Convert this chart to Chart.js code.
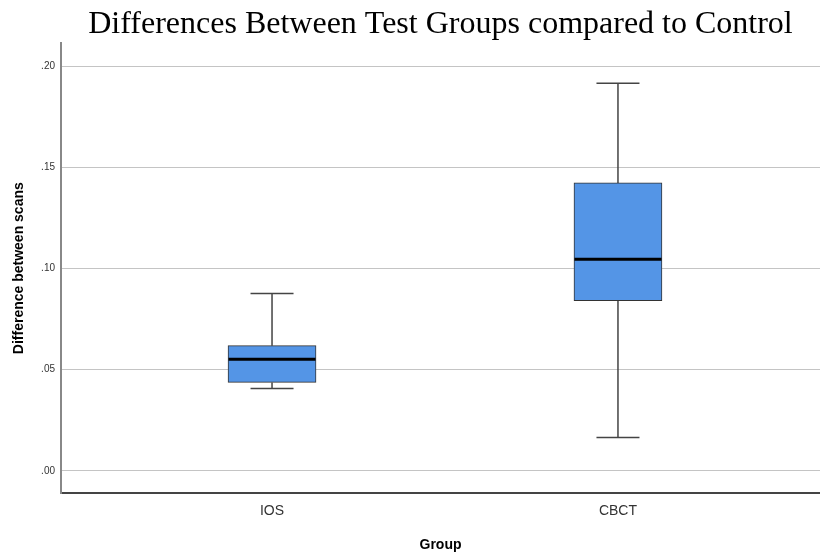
<!DOCTYPE html>
<html>
<head>
<meta charset="utf-8">
<script src="https://cdn.jsdelivr.net/npm/chart.js@4.4.1/dist/chart.umd.min.js"></script>
<style>
  body { margin: 0; background: #fff; }
  #wrap { width: 820px; height: 556px; }
</style>
</head>
<body>
<div id="wrap"><canvas id="boxChart"></canvas></div>
<script>
// Dữ liệu box plot
var groups = ['IOS', 'CBCT'];
var positions = [1, 2];
var mins = [0.0407, 0.0165];
var q1s = [0.0437, 0.0842];
var medians = [0.0551, 0.1046];
var q3s = [0.0619, 0.1424];
var maxs = [0.0877, 0.1917];
var yTicks = [0, 0.05, 0.10, 0.15, 0.20];

// Plugin vẽ râu và trung vị
var boxExtras = {
    id: 'boxExtras',
    beforeDatasetsDraw: function (chart) {
        var ctx = chart.ctx, xs = chart.scales.x, ys = chart.scales.y;
        ctx.save();
        ctx.strokeStyle = '#444';
        ctx.lineWidth = 1.5;
        positions.forEach(function (p, i) {
            var x = xs.getPixelForValue(p);
            ctx.beginPath();
            ctx.moveTo(x, ys.getPixelForValue(q3s[i]));
            ctx.lineTo(x, ys.getPixelForValue(maxs[i]));
            ctx.moveTo(x, ys.getPixelForValue(q1s[i]));
            ctx.lineTo(x, ys.getPixelForValue(mins[i]));
            ctx.moveTo(x - 21.5, ys.getPixelForValue(maxs[i]));
            ctx.lineTo(x + 21.5, ys.getPixelForValue(maxs[i]));
            ctx.moveTo(x - 21.5, ys.getPixelForValue(mins[i]));
            ctx.lineTo(x + 21.5, ys.getPixelForValue(mins[i]));
            ctx.stroke();
        });
        ctx.restore();
    },
    afterDatasetsDraw: function (chart) {
        var ctx = chart.ctx, xs = chart.scales.x, ys = chart.scales.y;
        ctx.save();
        ctx.strokeStyle = '#000';
        ctx.lineWidth = 3;
        positions.forEach(function (p, i) {
            var x = xs.getPixelForValue(p);
            var y = ys.getPixelForValue(medians[i]);
            ctx.beginPath();
            ctx.moveTo(x - 43.5, y);
            ctx.lineTo(x + 43.5, y);
            ctx.stroke();
        });
        ctx.restore();
    }
};

var data = {
    datasets: [{
        data: positions.map(function (p, i) { return { x: p, y: [q1s[i], q3s[i]] }; }),
        backgroundColor: '#5495e6',
        borderColor: '#333',
        borderWidth: 1,
        borderSkipped: false,
        barThickness: 88,
        grouped: false
    }]
};

var config = {
    type: 'bar',
    data: data,
    options: {
        responsive: true,
        maintainAspectRatio: false,
        animation: false,
        layout: { padding: 0 },
        plugins: {
            legend: { display: false },
            tooltip: { enabled: false },
            title: {
                display: true,
                fullSize: false,
                text: 'Differences Between Test Groups compared to Control',
                color: '#000',
                font: { family: '"Liberation Serif", "Times New Roman", serif', size: 32, weight: 'normal' },
                padding: { top: 5, bottom: 0 }
            }
        },
        scales: {
            x: {
                type: 'linear',
                offset: false,
                min: 0.39,
                max: 2.584,
                afterBuildTicks: function (scale) {
                    scale.ticks = positions.map(function (p) { return { value: p }; });
                },
                afterFit: function (scale) { scale.height = 63; },
                grid: { display: false, drawTicks: false, offset: false },
                border: { display: true, color: '#444', width: 2 },
                ticks: {
                    padding: 10,
                    color: '#333',
                    font: { family: '"Liberation Sans", Arial, sans-serif', size: 14 },
                    callback: function (v) { return groups[positions.indexOf(v)]; }
                },
                title: {
                    display: true,
                    text: 'Group',
                    color: '#000',
                    font: { family: '"Liberation Sans", Arial, sans-serif', size: 14, weight: 'bold' },
                    padding: { top: 0, bottom: 2 }
                }
            },
            y: {
                min: -0.011,
                max: 0.2114,
                afterBuildTicks: function (scale) {
                    scale.ticks = yTicks.map(function (v) { return { value: v }; });
                },
                afterFit: function (scale) { scale.width = 61; },
                grid: { color: '#c4c4c4', lineWidth: 1, drawTicks: false },
                border: { display: true, color: '#888', width: 2 },
                ticks: {
                    padding: 6,
                    color: '#333',
                    font: { family: '"Liberation Sans", Arial, sans-serif', size: 10 },
                    callback: function (v) { return v.toFixed(2).replace(/^0/, ''); }
                },
                title: {
                    display: true,
                    text: 'Difference between scans',
                    color: '#000',
                    font: { family: '"Liberation Sans", Arial, sans-serif', size: 14, weight: 'bold' },
                    padding: { top: 11, bottom: 0 }
                }
            }
        }
    },
    plugins: [boxExtras]
};

var boxChart = new Chart(document.getElementById('boxChart').getContext('2d'), config);
</script>
</body>
</html>
